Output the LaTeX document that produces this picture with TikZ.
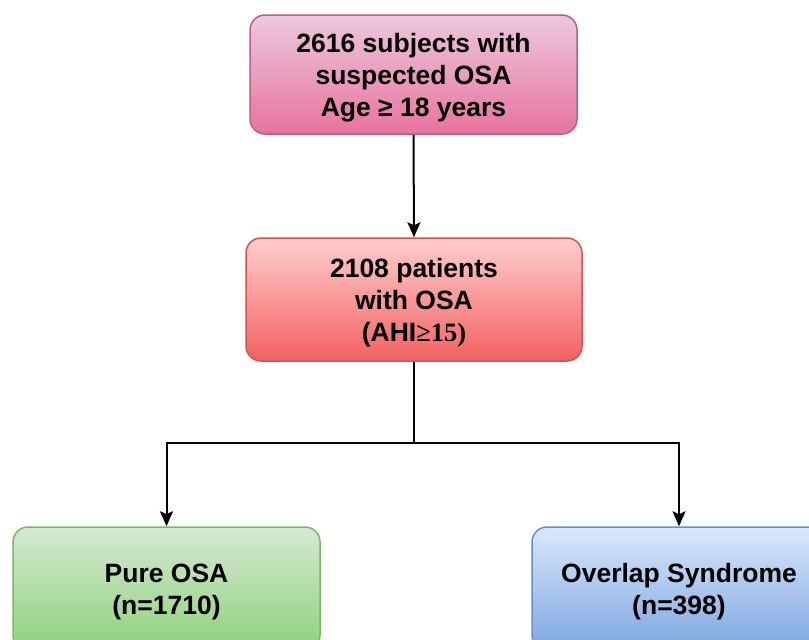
\documentclass[tikz,border=0pt]{standalone}
\usepackage{fontspec}
\setmainfont{Liberation Sans}
\newfontfamily\serifnum{Liberation Serif}
\usetikzlibrary{arrows.meta}
\definecolor{pinkTop}{HTML}{ECC8DC}
\definecolor{pinkBot}{HTML}{E8739E}
\definecolor{pinkLine}{HTML}{B5618A}
\definecolor{redTop}{HTML}{FFCECE}
\definecolor{redBot}{HTML}{F26161}
\definecolor{redLine}{HTML}{D45353}
\definecolor{greenTop}{HTML}{D5E8D4}
\definecolor{greenBot}{HTML}{8FD27A}
\definecolor{greenLine}{HTML}{82B366}
\definecolor{blueTop}{HTML}{DAE8FC}
\definecolor{blueBot}{HTML}{7EA6E0}
\definecolor{blueLine}{HTML}{6C8EBF}
\newcommand{\boxtext}[1]{\raisebox{0pt}[\dimexpr\height+7pt\relax][\depth]{\begin{tabular}{@{}c@{}}#1\end{tabular}}}
\tikzset{
  boxstyle/.style={rounded corners=15pt, line width=1.5pt, align=center,
    font=\fontsize{26.5}{32}\selectfont\bfseries, inner sep=0pt},
  arr/.style={line width=2pt, -{Stealth[length=15pt,width=13pt,inset=3pt]}},
  ln/.style={line width=2pt}
}
\begin{document}
\begin{tikzpicture}[x=1pt,y=-1pt]
\clip (0,0) rectangle (809,640);
\fill[white] (0,0) rectangle (809,640);
\node[boxstyle, draw=pinkLine, top color=pinkTop, bottom color=pinkBot,
  minimum width=327pt, minimum height=119pt] (top) at (413.5,74.5)
  {\boxtext{2616 subjects with\\suspected OSA\\Age ≥ 18 years}};
\node[boxstyle, draw=redLine, top color=redTop, bottom color=redBot,
  minimum width=336pt, minimum height=123pt] (mid) at (414,299.5)
  {\boxtext{2108 patients\\ with OSA\\(AHI{\serifnum ≥15)}}};
\node[boxstyle, draw=greenLine, top color=greenTop, bottom color=greenBot,
  minimum width=307pt, minimum height=123pt] (pure) at (166.5,588.5)
  {\boxtext{Pure OSA\\(n=1710)}};
\node[boxstyle, draw=blueLine, top color=blueTop, bottom color=blueBot,
  minimum width=294pt, minimum height=123pt] (over) at (679,588.5)
  {\boxtext{Overlap Syndrome\\(n=398)}};
\coordinate (split) at (414,443);
\draw[arr] (top.south) -- (mid.north);
\draw[ln] (mid.south) -- (split);
\draw[arr] (split) -| (pure.north);
\draw[arr] (split) -| (over.north);
\end{tikzpicture}
\end{document}
